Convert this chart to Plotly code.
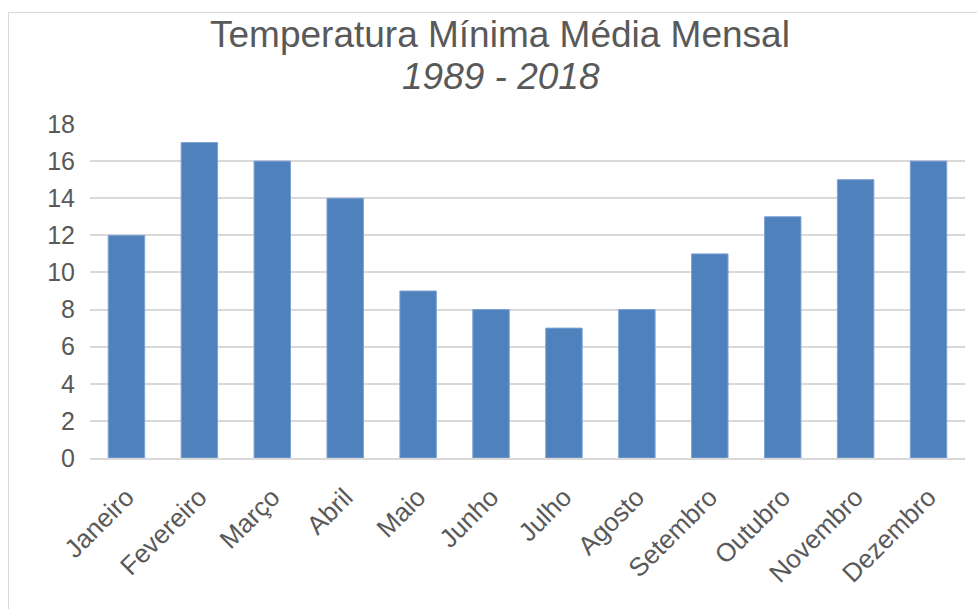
import plotly.graph_objects as go

months = ["Janeiro", "Fevereiro", "Março", "Abril", "Maio", "Junho",
          "Julho", "Agosto", "Setembro", "Outubro", "Novembro", "Dezembro"]
temp_min = [12, 17, 16, 14, 9, 8, 7, 8, 11, 13, 15, 16]
y_ticks = [0, 2, 4, 6, 8, 10, 12, 14, 16, 18]
title_main = "Temperatura Mínima Média Mensal"
title_sub = "1989 - 2018"

W, H = 977, 609
ML, MR, MT, MB = 90, 12, 124, 151
pw, ph = W - ML - MR, H - MT - MB

fig = go.Figure(go.Bar(
    x=months, y=temp_min,
    marker=dict(color="#4F81BD", line=dict(color="#7FA3D3", width=1)),
    width=0.5,
))

def px2paper_x(p):
    return (p - ML) / pw

def px2paper_y(p):
    return (H - MB - p) / ph

fig.add_shape(type="rect", xref="paper", yref="paper",
              x0=px2paper_x(8.5), x1=px2paper_x(1100),
              y0=px2paper_y(800), y1=px2paper_y(12.5),
              line=dict(color="#D9D9D9", width=1), fillcolor="rgba(0,0,0,0)",
              layer="below")

fig.add_annotation(text=title_main, xref="paper", yref="paper",
                   x=px2paper_x(500), y=px2paper_y(34), xanchor="center", yanchor="middle",
                   showarrow=False, font=dict(size=37, color="#595959"))
fig.add_annotation(text="<i>" + title_sub + "</i>", xref="paper", yref="paper",
                   x=px2paper_x(501), y=px2paper_y(77), xanchor="center", yanchor="middle",
                   showarrow=False, font=dict(size=37, color="#595959"))

fig.update_layout(
    width=W, height=H,
    margin=dict(l=ML, r=MR, t=MT, b=MB, pad=0),
    paper_bgcolor="white", plot_bgcolor="white",
    font=dict(family="Liberation Sans, Arial, sans-serif", color="#595959"),
    showlegend=False,
    bargap=0.5,
)
fig.update_xaxes(
    tickangle=-45, tickfont=dict(size=26, color="#595959"),
    showgrid=False, showline=True, linecolor="#D9D9D9", linewidth=1.5,
    ticks="", ticklen=0, ticklabelstandoff=12,
)
fig.update_yaxes(
    range=[0, 18], tickvals=y_ticks, tickfont=dict(size=25, color="#595959"),
    showgrid=True, gridcolor="#D9D9D9", gridwidth=1.5,
    zeroline=False, showline=False, ticks="", ticklabelstandoff=14,
)

fig.write_html("out.html", config={"displayModeBar": False},
               post_script="document.body.style.margin='0px';")
